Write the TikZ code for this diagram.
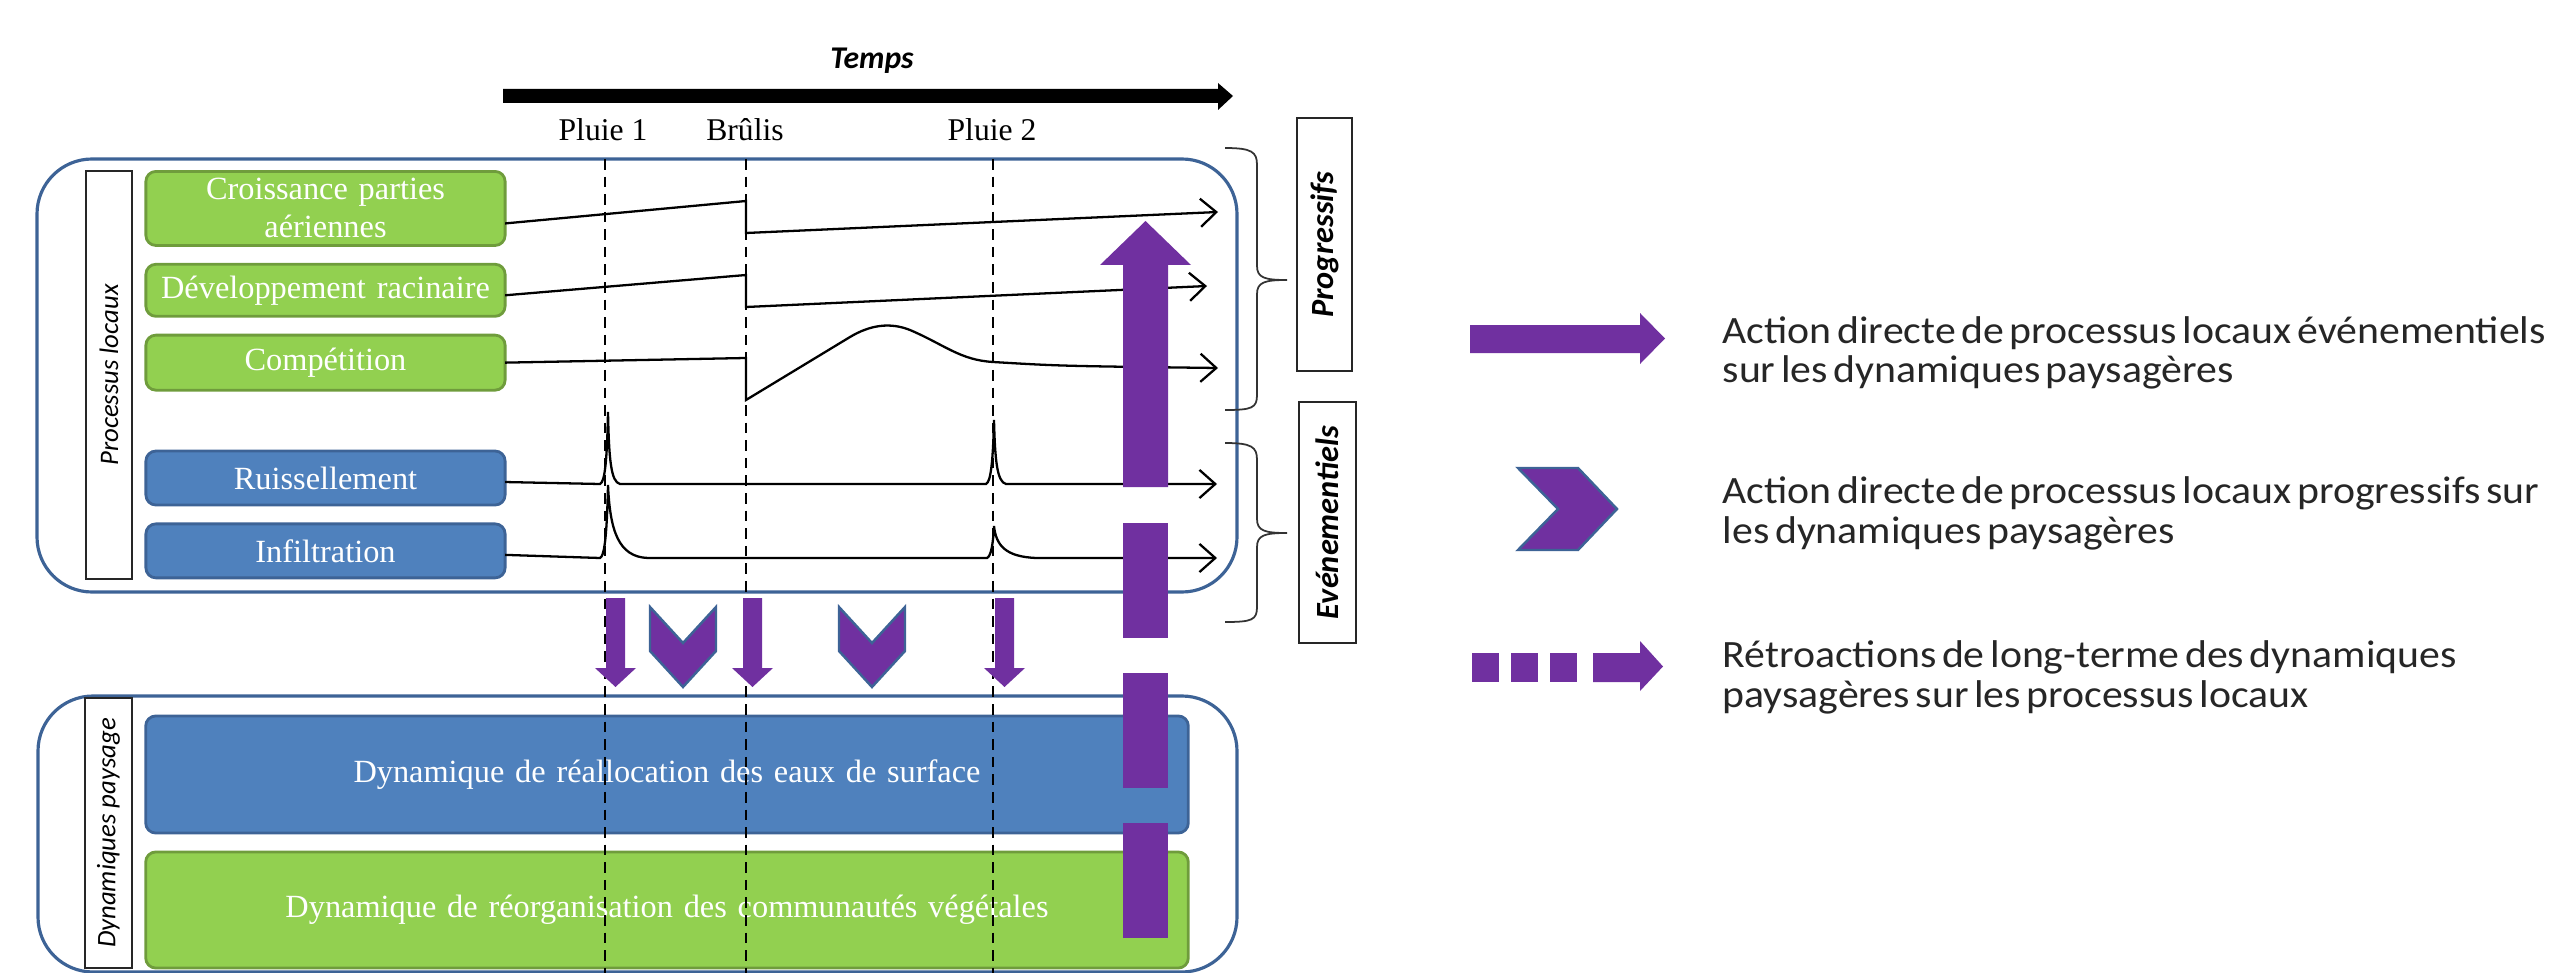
\documentclass[tikz,border=0pt]{standalone}
\usepackage{fontspec}
\setmainfont{Liberation Serif}
\newfontfamily\carlito{Carlito}
\newfontfamily\legendfont[FakeStretch=1.08,WordSpace=0.6]{Carlito}
\usetikzlibrary{shapes,arrows,arrows.meta}
\definecolor{vert}{HTML}{92D050}
\definecolor{vertfonce}{HTML}{6F9C3C}
\definecolor{bleu}{HTML}{4F81BD}
\definecolor{bleufonce}{HTML}{3D6396}
\definecolor{pourpre}{HTML}{7030A0}

\begin{document}
\begin{tikzpicture}[x=0.01cm,y=-0.01cm,
    block_green/.style ={rectangle, rounded corners=0.1cm, draw=vertfonce, line width=0.8pt,
      fill=vert, text=white, text width=3.5cm, align=center, minimum width=3.59cm,
      inner sep=1pt, font=\fontsize{9.2}{10.8}\selectfont},
    block_blue/.style ={block_green, draw=bleufonce, fill=bleu},
    block_frame/.style ={draw=bleufonce, line width=0.9pt, rounded corners=0.55cm},
    block_label/.style ={rectangle, draw=black!85, line width=0.5pt, rotate=90, inner sep=0pt,
      font=\carlito\itshape\fontsize{7.6}{9}\selectfont},
    block_type/.style ={block_label, font=\carlito\bfseries\itshape\fontsize{9.2}{11}\selectfont},
    event_text/.style ={anchor=base, font=\fontsize{9}{10.8}\selectfont},
    event_line/.style ={draw, line width=0.4pt, dash pattern=on 3pt off 2pt},
    trace/.style ={draw, line width=0.65pt, -{Straight Barb[length=4.5pt,width=8pt]}},
    brace_line/.style ={draw, black!80, line width=0.5pt},
    purple_block/.style ={fill=pourpre},
    purple_chevron/.style ={fill=pourpre, draw=bleufonce, line width=0.7pt},
    legend_text/.style ={anchor=base west, align=left, inner sep=0pt, text=black!85,
      font=\legendfont\fontsize{11}{11.34}\selectfont}]
    \useasboundingbox (0,0) rectangle (2554,973);

    % time axis
    \fill (503,89) -- (1218,89) -- (1218,83) -- (1233,96) -- (1218,110) -- (1218,103) -- (503,103) -- cycle;
    \node [font=\carlito\bfseries\itshape\fontsize{9}{11}\selectfont] (temps) at (872,61) {Temps};
    \node [event_text] (pluie1) at (603,141) {Pluie 1};
    \node [event_text] (brulis) at (745,141) {Brûlis};
    \node [event_text] (pluie2) at (992,141) {Pluie 2};

    % frames
    \draw [block_frame] (37,159) rectangle (1237,592);
    \draw [block_frame] (38,696) rectangle (1237,972);
    \node [block_label, minimum width=4.08cm, minimum height=0.46cm] (proc_label) at (109,375) {Processus locaux};
    \node [block_label, minimum width=2.70cm, minimum height=0.47cm] (dyn_label) at (108.5,833) {Dynamiques paysage};

    % local processes
    \matrix [row sep=0.16cm, inner sep=0pt, outer sep=0pt, anchor=north] at (325.5,170) {
      \node [block_green, minimum height=0.74cm] (croiss) {Croissance parties\\aériennes};\\
      \node [block_green, minimum height=0.52cm] (dev) {Développement racinaire};\\
      \node [block_green, minimum height=0.55cm] (comp) {Compétition};\\[0.42cm]
      \node [block_blue, minimum height=0.54cm] (ruis) {Ruissellement};\\
      \node [block_blue, minimum height=0.54cm] (infi) {Infiltration};\\
    };% end matrix

    % landscape dynamics
    \node [block_blue, text width=10cm, minimum width=10.42cm, minimum height=1.17cm] (eaux) at (667,774.5)
      {Dynamique de réallocation des eaux de surface};
    \node [block_green, text width=10cm, minimum width=10.42cm, minimum height=1.16cm] (veget) at (667,910)
      {Dynamique de réorganisation des communautés végétales};

    % traces over time
    \path [trace] ([yshift=-0.15cm]croiss.east) -- (746,201) -- (746,233) -- (1218,212);
    \path [trace] ([yshift=-0.05cm]dev.east) -- (746,275) -- (746,307) -- (1207,286);
    \path [trace] (comp.east) -- (746,358) -- (746,400) -- (850,337)
      .. controls (870,325) and (890,322) .. (910,330)
      .. controls (945,345) and (960,360) .. (993,362)
      .. controls (1060,366) .. (1218,368);
    \path [trace] ([yshift=-0.04cm]ruis.east) -- (600,484)
      .. controls (605,482) and (607,460) .. (608,412)
      .. controls (609,460) and (611,482) .. (620,484) -- (986,484)
      .. controls (991,482) and (993,460) .. (994,420)
      .. controls (995,460) and (997,482) .. (1006,484) -- (1217,484);
    \path [trace] ([yshift=-0.04cm]infi.east) -- (600,558)
      .. controls (605,556) and (607,530) .. (608,485)
      .. controls (610,530) and (618,557) .. (648,558) -- (987,558)
      .. controls (991,556) and (993,545) .. (994,526)
      .. controls (996,545) and (1005,557) .. (1037,558) -- (1217,558);

    \foreach \x in {605,746,993}
      \path [event_line] (\x,159) -- (\x,973);

    % braces and types
    \path [brace_line] (1225,148) .. controls (1252,148) and (1257,152) .. (1257,165) -- (1257,266)
      .. controls (1257,278) and (1265,280) .. (1287,280) .. controls (1265,280) and (1257,282) .. (1257,294)
      -- (1257,395) .. controls (1257,408) and (1252,410) .. (1225,410);
    \path [brace_line] (1225,443) .. controls (1252,443) and (1257,447) .. (1257,460) -- (1257,519)
      .. controls (1257,531) and (1265,533) .. (1287,533) .. controls (1265,533) and (1257,535) .. (1257,547)
      -- (1257,607) .. controls (1257,620) and (1252,622) .. (1225,622);
    \node [block_type, minimum width=2.53cm, minimum height=0.55cm] (prog_label) at (1324.5,244.5) {Progressifs};
    \node [block_type, minimum width=2.41cm, minimum height=0.57cm] (evt_label) at (1327.5,522.5) {Evénementiels};

    % purple actions
    \foreach \x in {606,743,995}
      \fill [purple_block] (\x,598) -- (\x+19,598) -- (\x+19,668) -- (\x+30,668) -- (\x+9.5,687)
        -- (\x-11,668) -- (\x,668) -- cycle;
    \foreach \x in {650,839}
      \filldraw [purple_chevron] (\x,607) -- (\x+33,643) -- (\x+66,607) -- (\x+66,651) -- (\x+33,687)
        -- (\x,651) -- cycle;
    \fill [purple_block] (1123,487) -- (1123,265) -- (1100,265) -- (1145.5,221) -- (1191,265)
      -- (1168,265) -- (1168,487) -- cycle;
    \foreach \y in {523,673,823}
      \fill [purple_block] (1123,\y) rectangle (1168,\y+115);

    % legend
    \fill [purple_block] (1470,325) -- (1640,325) -- (1640,313) -- (1665,338.5) -- (1640,364)
      -- (1640,353) -- (1470,353) -- cycle;
    \filldraw [purple_chevron] (1518,468) -- (1578,468) -- (1617,509) -- (1578,550) -- (1518,550)
      -- (1558,509) -- cycle;
    \foreach \x in {1472,1511,1550}
      \fill [purple_block] (\x,653) rectangle (\x+27,682);
    \fill [purple_block] (1593,653) -- (1640,653) -- (1640,641) -- (1663,666.5) -- (1640,691)
      -- (1640,682) -- (1593,682) -- cycle;
    \node [legend_text] (leg_evt) at (1722,383)
      {Action directe de processus locaux événementiels\\sur les dynamiques paysagères};
    \node [legend_text] (leg_prog) at (1722,543)
      {Action directe de processus locaux progressifs sur\\les dynamiques paysagères};
    \node [legend_text] (leg_retro) at (1722,707)
      {Rétroactions de long-terme des dynamiques\\paysagères sur les processus locaux};
\end{tikzpicture}
\end{document}
